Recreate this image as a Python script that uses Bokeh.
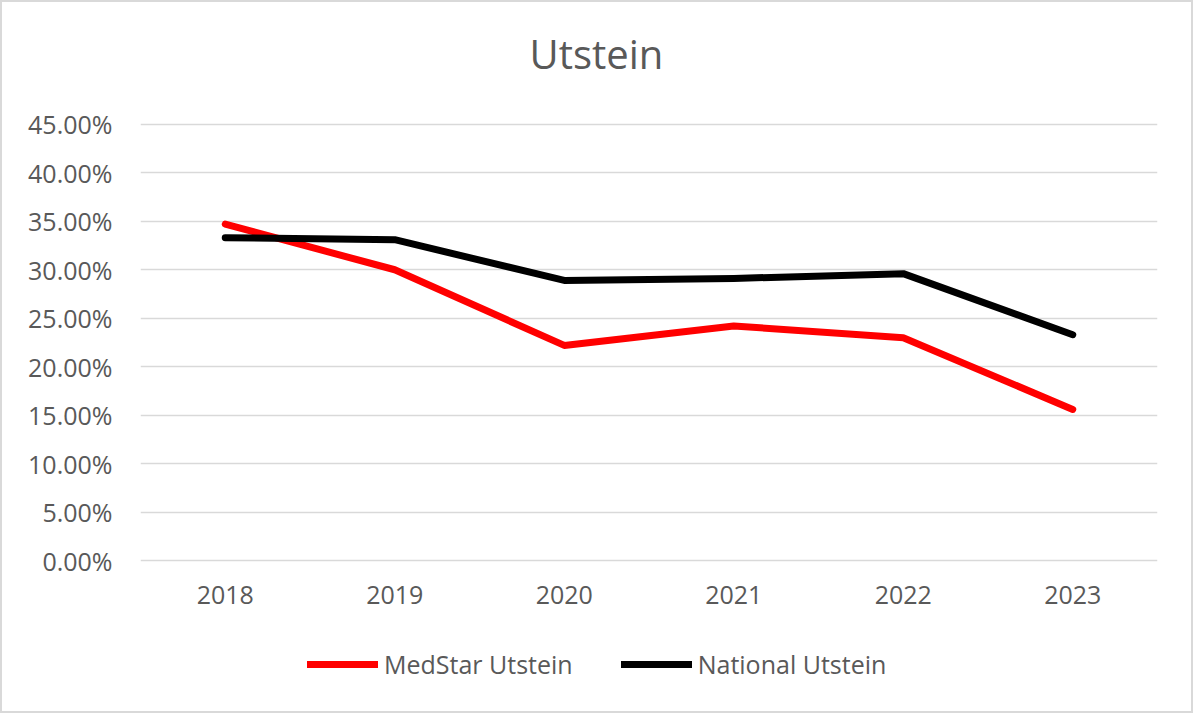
from bokeh.plotting import figure
from bokeh.models import (Range1d, FixedTicker, NumeralTickFormatter, Legend, LegendItem,
                          Label, ColumnDataSource)
from bokeh.core.properties import value
from bokeh.embed import file_html
from bokeh.resources import INLINE

years = [2018, 2019, 2020, 2021, 2022, 2023]
medstar = [0.347, 0.300, 0.222, 0.242, 0.230, 0.156]
national = [0.333, 0.331, 0.289, 0.291, 0.296, 0.233]
y_ticks = [0.0, 0.05, 0.10, 0.15, 0.20, 0.25, 0.30, 0.35, 0.40, 0.45]
year_labels = [str(y) for y in years]
title_text = "Utstein"
series_names = ["MedStar Utstein", "National Utstein"]

FONT = "Open Sans"
TXT = "#595959"
GRID = "#d9d9d9"

# frame spans full canvas height; title, year labels and legend live inside it
p = figure(width=1193, height=713, output_backend="svg", toolbar_location=None,
           x_range=Range1d(2017.5, 2023.5), y_range=Range1d(-0.1595, 0.5755),
           min_border_left=138, min_border_right=38, min_border_top=0, min_border_bottom=0)
p.styles = {"border": "2px solid #d9d9d9", "box-sizing": "border-box"}
p.outline_line_color = None
p.background_fill_color = "white"
p.border_fill_color = "white"

r1 = p.line(years, medstar, line_color="#ff0000", line_width=7, line_cap="round", line_join="round")
r2 = p.line(years, national, line_color="#000000", line_width=7, line_cap="round", line_join="round")

p.xaxis.visible = False
p.yaxis.ticker = FixedTicker(ticks=y_ticks)
p.yaxis.formatter = NumeralTickFormatter(format="0.00%")
p.yaxis.major_tick_line_color = None
p.yaxis.minor_tick_line_color = None
p.yaxis.major_label_text_font = FONT
p.yaxis.major_label_text_font_size = "25px"
p.yaxis.major_label_text_color = TXT
p.yaxis.axis_line_color = None
p.yaxis.major_label_standoff = 22

p.xgrid.grid_line_color = None
p.ygrid.grid_line_color = GRID
p.ygrid.grid_line_width = 1.6

# category labels under the 0% baseline
lab_src = ColumnDataSource(dict(x=years, y=[-0.035] * len(years), t=year_labels))
p.text(x="x", y="y", text="t", source=lab_src, text_align="center", text_baseline="middle",
       text_font=value(FONT), text_font_size="25px", text_color=TXT)

title = Label(x=2020.19, y=0.523, text=title_text, text_align="center", text_baseline="middle",
              text_font=FONT, text_font_size="40px", text_color=TXT)
p.add_layout(title)

legend = Legend(items=[LegendItem(label=series_names[0], renderers=[r1]),
                       LegendItem(label=series_names[1], renderers=[r2])],
                orientation="horizontal", location=(167, 34),
                label_text_font=FONT, label_text_font_size="25px", label_text_color=TXT,
                glyph_width=71, glyph_height=30, label_standoff=6, spacing=48,
                border_line_color=None, background_fill_alpha=0, padding=0, margin=0)
p.add_layout(legend, "center")

open("out.html", "w").write(file_html(p, INLINE))
